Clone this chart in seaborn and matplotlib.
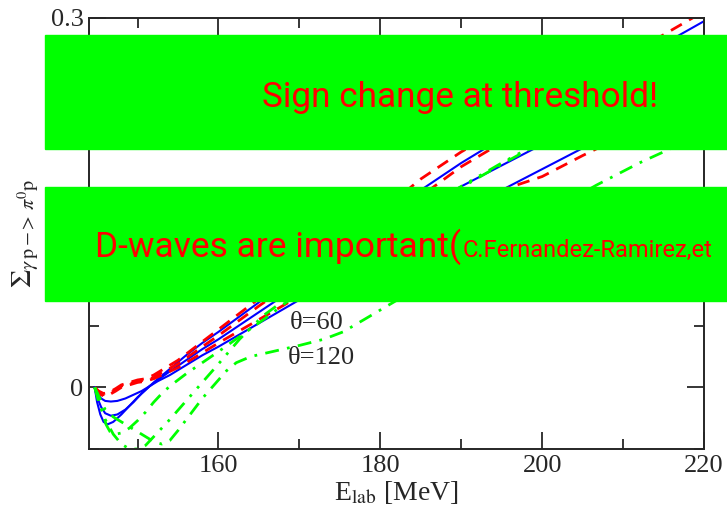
import numpy as np
import pandas as pd
import matplotlib
matplotlib.use("Agg")
import matplotlib.pyplot as plt
import seaborn as sns
from matplotlib.patches import Rectangle
from matplotlib.ticker import MultipleLocator

# ---------------- data ----------------
# blue solid curves
E_b1 = [144.7, 145.0, 145.4, 145.8, 146.3, 147.0, 148.0, 149.0, 150.0, 151.0, 152.0, 154.0, 156.0, 158.0, 160.0, 165.0, 170.0, 175.0, 180.0, 185.0, 190.0, 200.0, 210.0, 220.0]
S_b1 = [0.0, -0.012, -0.022, -0.028, -0.030, -0.028, -0.022, -0.015, -0.008, -0.002, 0.004, 0.015, 0.026, 0.036, 0.045, 0.069, 0.093, 0.116, 0.138, 0.160, 0.182, 0.222, 0.260, 0.297]
E_b2 = [144.7, 145.0, 145.5, 146.0, 146.7, 147.5, 148.5, 149.5, 150.5, 151.5, 152.5, 154, 156, 158, 160, 165, 170, 175, 180, 185, 190, 195, 200, 210, 220]
S_b2 = [0.0, -0.008, -0.016, -0.021, -0.023, -0.022, -0.018, -0.012, -0.005, 0.001, 0.006, 0.013, 0.022, 0.031, 0.039, 0.061, 0.083, 0.104, 0.125, 0.145, 0.163, 0.180, 0.197, 0.232, 0.268]
E_b3 = [144.7, 145.0, 145.5, 146.0, 146.7, 147.5, 148.5, 149.5, 150.5, 151.5, 152.5, 154, 156, 158, 160, 165, 170, 175, 180, 185, 190, 195, 200, 205, 210, 220]
S_b3 = [0.0, -0.005, -0.009, -0.011, -0.0115, -0.011, -0.009, -0.006, -0.003, 0.001, 0.005, 0.010, 0.018, 0.026, 0.033, 0.052, 0.071, 0.089, 0.107, 0.125, 0.143, 0.160, 0.177, 0.194, 0.210, 0.243]

# red dashed curves
E_r1 = [144.7, 145.2, 145.8, 146.5, 147.3, 148.0, 149.0, 150.0, 151.0, 152.0, 153.0, 155, 158, 160, 163, 165, 170, 175, 180, 185, 190, 200, 210, 220]
S_r1 = [0.0, -0.003, -0.005, -0.004, -0.001, 0.002, 0.004, 0.006, 0.007, 0.010, 0.014, 0.022, 0.037, 0.047, 0.062, 0.072, 0.096, 0.119, 0.142, 0.169, 0.191, 0.229, 0.267, 0.305]
E_r2 = [144.7, 145.2, 145.8, 146.5, 147.3, 148, 149, 150, 151, 152, 153, 155, 158, 160, 165, 170, 175, 180, 185, 190, 200, 210, 220]
S_r2 = [0.0, -0.004, -0.006, -0.005, -0.002, 0.001, 0.003, 0.005, 0.006, 0.008, 0.012, 0.019, 0.033, 0.042, 0.066, 0.089, 0.111, 0.133, 0.155, 0.179, 0.218, 0.252, 0.284]
E_r3 = [144.7, 145.2, 145.8, 146.5, 147.3, 148, 149, 150, 151, 152, 153, 155, 158, 160, 165, 170, 175, 180, 185, 190, 195, 200, 205, 210, 220]
S_r3 = [0.0, -0.005, -0.007, -0.006, -0.003, 0.0, 0.002, 0.004, 0.005, 0.007, 0.010, 0.016, 0.028, 0.036, 0.055, 0.074, 0.092, 0.110, 0.127, 0.144, 0.160, 0.171, 0.188, 0.204, 0.238]

# green dash-dot curves
E_g1 = [144.7, 145.2, 145.6, 146.1, 146.6, 147.3, 148, 149, 150, 151, 152, 153, 154, 156, 158, 160, 163, 166, 170, 175, 180, 185, 190, 195, 200, 210, 220]
S_g1 = [0.0, -0.008, -0.018, -0.030, -0.036, -0.038, -0.037, -0.033, -0.027, -0.020, -0.012, -0.005, 0.001, 0.011, 0.020, 0.029, 0.043, 0.057, 0.077, 0.099, 0.121, 0.142, 0.162, 0.181, 0.199, 0.234, 0.268]
E_g2 = [144.7, 145.2, 146, 147, 148, 149, 150, 151, 152, 153, 154, 156, 158, 160, 162.6, 165.5, 168, 172, 176, 180, 185, 190, 195, 200, 210, 220]
S_g2 = [0.0, -0.012, -0.026, -0.038, -0.046, -0.050, -0.050, -0.047, -0.040, -0.033, -0.026, -0.011, 0.004, 0.019, 0.039, 0.058, 0.070, 0.088, 0.105, 0.122, 0.143, 0.163, 0.182, 0.200, 0.236, 0.271]
E_g3 = [144.7, 145.2, 146, 147, 148, 149, 150, 151, 152, 153, 154, 155, 156.5, 158, 160, 161, 162.2, 164, 166, 168, 170, 173, 175.4, 178, 182, 190, 200, 206.7, 212, 216, 220]
S_g3 = [0.0, -0.007, -0.018, -0.024, -0.028, -0.032, -0.036, -0.040, -0.044, -0.046, -0.043, -0.035, -0.022, -0.009, 0.006, 0.0135, 0.020, 0.025, 0.028, 0.031, 0.034, 0.039, 0.045, 0.055, 0.0705, 0.101, 0.139, 0.164, 0.182, 0.194, 0.206]

x_ticks = [160, 180, 200, 220]
y_ticks = [0, 0.1, 0.2, 0.3]
y_tick_labels = ["0", "0.1", "0.2", "0.3"]
angle_labels = ["θ=60", "θ=120"]
banner_1 = "Sign change at threshold!"
banner_2a = "D-waves are important("
banner_2b = "C.Fernandez-Ramirez,et"

# ---------------- style ----------------
sns.set_style("ticks")
plt.rcParams["font.family"] = ["Liberation Serif", "DejaVu Serif"]
plt.rcParams["mathtext.fontset"] = "stix"

W, H = 727, 509
fig = plt.figure(figsize=(W / 100, H / 100), dpi=100)
ax = fig.add_axes([89 / W, 1 - 449 / H, (704 - 89) / W, (449 - 17.5) / H])

curves = [
    (E_b1, S_b1, "b1"), (E_b2, S_b2, "b2"), (E_b3, S_b3, "b3"),
    (E_r1, S_r1, "r1"), (E_r2, S_r2, "r2"), (E_r3, S_r3, "r3"),
    (E_g1, S_g1, "g1"), (E_g2, S_g2, "g2"), (E_g3, S_g3, "g3"),
]
styles = {
    "b1": dict(color="#0000ff", lw=1.5, ls="-"),
    "b2": dict(color="#0000ff", lw=1.5, ls="-"),
    "b3": dict(color="#0000ff", lw=1.5, ls="-"),
    "r1": dict(color="#ff0000", lw=2.0, ls=(0, (4.5, 3))),
    "r2": dict(color="#ff0000", lw=2.0, ls=(0, (4.5, 3))),
    "r3": dict(color="#ff0000", lw=2.0, ls=(0, (4.5, 3))),
    "g1": dict(color="#00ff00", lw=2.0, ls=(0, (5, 3, 1, 3))),
    "g2": dict(color="#00ff00", lw=2.0, ls=(0, (5, 3, 1, 3, 1, 3))),
    "g3": dict(color="#00ff00", lw=2.0, ls=(0, (5, 3, 1, 3))),
}
for E, S, name in curves:
    df = pd.DataFrame({"E": E, "S": S})
    st = styles[name]
    sns.lineplot(data=df, x="E", y="S", ax=ax, sort=False, color=st["color"],
                 linewidth=st["lw"], linestyle=st["ls"], estimator=None)

ax.set_xlim(144, 220)
ax.set_ylim(-0.05, 0.3)
ax.set_xticks(x_ticks)
ax.set_yticks(y_ticks)
ax.set_yticklabels(y_tick_labels)
ax.xaxis.set_minor_locator(MultipleLocator(10))
ax.yaxis.set_minor_locator(MultipleLocator(0.05))
ax.tick_params(which="major", direction="in", length=12, width=1.3, labelsize=19,
               top=True, right=True, pad=4)
ax.tick_params(which="minor", direction="in", length=7, width=1.3, top=True, right=True)
for sp in ax.spines.values():
    sp.set_linewidth(1.4)
    sp.set_visible(True)

ax.set_xlabel(r"E$_{\mathrm{lab}}$ [MeV]", fontsize=20, labelpad=2)
ax.set_ylabel(r"$\Sigma_{\gamma\,\mathrm{p}\,\mathrm{->}\,\pi^{0}\mathrm{p}}$", fontsize=21, labelpad=7)

ax.text(168.8, 0.0526, angle_labels[0], fontsize=19, va="center", ha="left")
ax.text(168.6, 0.024, angle_labels[1], fontsize=19, va="center", ha="left")

# green banners
fig.patches.append(Rectangle((45 / W, 1 - 149 / H), 1 - 45 / W, (149 - 35) / H,
                             transform=fig.transFigure, color="#00ff00", zorder=10))
fig.patches.append(Rectangle((45 / W, 1 - 301 / H), 1 - 45 / W, (301 - 187) / H,
                             transform=fig.transFigure, color="#00ff00", zorder=10))
sans = ["Roboto", "DejaVu Sans"]
fig.text(262 / W, 1 - 107 / H, banner_1, color="#ff0000", fontsize=25.3, family=sans,
         va="baseline", ha="left", zorder=11)
fig.text(95 / W, 1 - 257 / H, banner_2a, color="#ff0000", fontsize=25.5, family=sans,
         va="baseline", ha="left", zorder=11)
fig.text(463 / W, 1 - 257 / H, banner_2b, color="#ff0000", fontsize=17, family=sans,
         va="baseline", ha="left", zorder=11)

fig.savefig("out.png", dpi=100)
